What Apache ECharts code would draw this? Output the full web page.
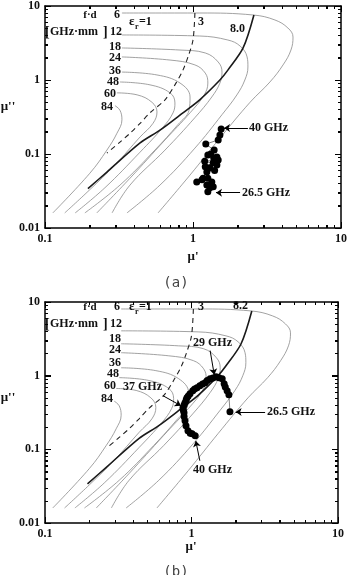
<!DOCTYPE html>
<html>
<head>
<meta charset="utf-8">
<script src="https://cdn.jsdelivr.net/npm/echarts@6/dist/echarts.min.js"></script>
<style>
html,body{margin:0;padding:0;background:#fff;}
#chart{width:350px;height:575px;}
</style>
</head>
<body>
<div id="chart"></div>
<script>
// constant f·d curves, [mu', mu'']
var fd6  = [[0.331,8.04],[1.11,8.04],[2.55,7.56],[3.58,6.47],[4.38,5.04],[4.74,3.81],[4.59,2.54],[4.06,1.60],[3.31,0.94],[2.43,0.50],[1.52,0.164],[0.955,0.052],[0.581,0.016]];
var fd12 = [[0.331,4.06],[1.11,3.93],[1.72,3.47],[2.08,2.88],[2.32,2.05],[2.35,1.50],[2.24,1.0],[1.98,0.63],[1.57,0.34],[1.03,0.12],[0.598,0.038],[0.358,0.016]];
var fd18 = [[0.331,2.71],[0.817,2.54],[1.21,2.32],[1.48,1.75],[1.57,1.28],[1.52,0.91],[1.34,0.59],[1.03,0.31],[0.647,0.113],[0.375,0.038],[0.284,0.016]];
var fd24 = [[0.331,2.05],[0.70,1.86],[1.03,1.60],[1.21,1.24],[1.26,0.91],[1.19,0.63],[0.955,0.36],[0.647,0.155],[0.375,0.047],[0.224,0.016]];
var fd36 = [[0.331,1.28],[0.571,1.17],[0.817,0.91],[0.955,0.59],[0.94,0.39],[0.792,0.25],[0.553,0.113],[0.321,0.038],[0.186,0.016]];
var fd48 = [[0.321,0.94],[0.512,0.86],[0.70,0.67],[0.755,0.49],[0.733,0.36],[0.627,0.23],[0.439,0.106],[0.254,0.035],[0.160,0.016]];
var fd60 = [[0.306,0.67],[0.419,0.63],[0.528,0.50],[0.571,0.37],[0.537,0.26],[0.439,0.17],[0.297,0.071],[0.201,0.033],[0.136,0.016]];
var fd84 = [[0.297,0.45],[0.321,0.39],[0.331,0.29],[0.306,0.19],[0.262,0.113],[0.201,0.055],[0.113,0.016]];

// eps_r = 3 (dashed) and eps_r = 8 (solid)
var eps3 = [[1.03,8.04],[1.0,3.47],[0.925,2.05],[0.855,1.36],[0.755,0.86],[0.647,0.54],[0.512,0.36],[0.439,0.26],[0.375,0.19],[0.321,0.145],[0.262,0.103]];
var eps8 = [[2.58,7.56],[2.18,2.71],[1.72,1.36],[1.52,1.0],[1.11,0.54],[0.855,0.36],[0.598,0.21],[0.439,0.141],[0.262,0.057],[0.195,0.034]];

// measured points, 26.5 -> 40 GHz
var measA = [[1.26,0.031],[1.30,0.035],[1.37,0.036],[1.24,0.038],[1.34,0.042],[1.26,0.047],[1.15,0.045],[1.06,0.042],[1.17,0.047],[1.24,0.057],[1.40,0.060],[1.30,0.065],[1.21,0.067],[1.37,0.076],[1.45,0.071],[1.20,0.080],[1.48,0.083],[1.38,0.088],[1.45,0.091],[1.26,0.097],[1.32,0.10],[1.39,0.113],[1.22,0.136],[1.48,0.155],[1.52,0.18],[1.55,0.218]];
var measB = [[1.83,0.324],[1.80,0.551],[1.75,0.625],[1.70,0.70],[1.67,0.778],[1.62,0.91],[1.54,0.94],[1.47,0.969],[1.40,0.93],[1.34,0.91],[1.28,0.86],[1.24,0.80],[1.19,0.77],[1.14,0.731],[1.09,0.687],[1.05,0.66],[1.02,0.625],[0.977,0.569],[0.95,0.53],[0.931,0.502],[0.92,0.47],[0.903,0.43],[0.89,0.40],[0.875,0.367],[0.88,0.34],[0.889,0.314],[0.89,0.28],[0.903,0.244],[0.917,0.209],[0.946,0.179],[0.98,0.165],[1.01,0.163],[1.06,0.153]];

// arrows [from, to]
var arrowsA = [[[2.35,0.225],[1.62,0.225]],[[2.08,0.030],[1.43,0.030]]];
var arrowsB = [[[3.18,0.32],[2.0,0.32]],[[0.638,0.535],[0.847,0.391]],[[1.34,2.19],[1.43,1.03]],[[1.14,0.07],[1.07,0.13]]];

// tick values, decades get long ticks
var xTicks = [0.1,0.2,0.3,0.4,0.5,0.6,0.7,0.8,0.9,1,2,3,4,5,6,7,8,9,10];
var yTicks = [0.01,0.02,0.03,0.04,0.05,0.06,0.07,0.08,0.09,0.1,0.2,0.3,0.4,0.5,0.6,0.7,0.8,0.9,1,2,3,4,5,6,7,8,9,10];

var SERIF = 'Liberation Serif';
var chart = echarts.init(document.getElementById('chart'));

function isDecade(v){
  var l = Math.log10(v);
  return Math.abs(l - Math.round(l)) < 1e-6;
}

function plotSeries(i, meas, arrows){
  var out = [];
  [fd6, fd12, fd18, fd24, fd36, fd48, fd60, fd84].forEach(function(c){
    out.push({type:'line', xAxisIndex:i, yAxisIndex:i, data:c, smooth:0.4, showSymbol:false, silent:true,
      lineStyle:{color:'#8a8a8a', width:0.8}, z:2});
  });
  out.push({type:'line', xAxisIndex:i, yAxisIndex:i, data:eps3, smooth:0.3, showSymbol:false, silent:true,
    lineStyle:{color:'#222', width:1.1, type:[5,4]}, z:3});
  out.push({type:'line', xAxisIndex:i, yAxisIndex:i, data:eps8, smooth:0.3, showSymbol:false, silent:true,
    lineStyle:{color:'#1a1a1a', width:1.6}, z:3});
  out.push({type:'line', xAxisIndex:i, yAxisIndex:i, data:meas, symbol:'circle', symbolSize:7, showSymbol:true,
    itemStyle:{color:'#000'}, lineStyle:{color:'#333', width:0.6}, z:5,
    markLine:{silent:true, symbol:['none','arrow'], symbolSize:6, animation:false,
      label:{show:false}, lineStyle:{color:'#000', width:1, type:'solid'},
      data:arrows.map(function(a){ return [{coord:a[0]},{coord:a[1]}]; })}
  });
  return out;
}

var axisLbl = {fontFamily:SERIF, fontWeight:'bold', fontSize:12, color:'#111', margin:5,
  formatter:function(v){ return String(+(+v).toPrecision(3)); }};

// bottom/left axes carry labels, top/right copies close the frame
function ax(i, lo, hi, split, pos, lab){
  return {gridIndex:i, type:'log', logBase:10, min:lo, max:hi, splitNumber:split, position:pos,
    axisLine:{show:true, onZero:false, lineStyle:{color:'#000', width:1.5}},
    axisTick:{show:true, inside:true, length:6, lineStyle:{color:'#000', width:1}},
    minorTick:{show:false}, splitLine:{show:false},
    axisLabel:lab ? axisLbl : {show:false}};
}

function txt(x, y, s, align, size, extra){
  var st = {text:s, fontFamily:SERIF, fontWeight:'bold', fontSize:size || 12, fill:'#111',
    align:align || 'left', verticalAlign:'middle'};
  if(extra){ for(var k in extra){ st[k] = extra[k]; } }
  return {type:'text', x:x, y:y, z:20, style:st};
}

function labels(dy, epsTop, solidLbl){
  return [
    txt(90, 15+dy, 'f·d', 'center', 11),
    txt(120, 15+dy, '6', 'right'),
    txt(45, 32+dy, '[', 'left', 14),
    txt(50, 32+dy, 'GHz·mm', 'left', 12),
    txt(103, 32+dy, ']', 'left', 14),
    txt(122, 32+dy, '12', 'right'),
    txt(121, 47+dy, '18', 'right'),
    txt(121, 58+dy, '24', 'right'),
    txt(121, 71+dy, '36', 'right'),
    txt(119, 82+dy, '48', 'right'),
    txt(116, 94+dy, '60', 'right'),
    txt(113, 107+dy, '84', 'right'),
    txt(129, epsTop+dy, 'ε', 'left', 13),
    txt(135, epsTop+5+dy, 'r', 'left', 8),
    txt(139, epsTop+dy, '=1', 'left', 12),
    txt(198, epsTop+dy, '3', 'left', 12),
    txt(solidLbl[0], solidLbl[1]+dy, solidLbl[2], 'left', 12)
  ];
}

function buildTexts(){
  var mono = {fontFamily:'DejaVu Sans Mono', fontWeight:'normal', fill:'#444'};
  return []
    .concat(labels(0, 22, [230, 29, '8.0']))
    .concat(labels(292, 15, [233, 14, '8.2']))
    .concat([
      txt(249, 128, '40 GHz'),
      txt(242, 193, '26.5 GHz'),
      txt(193, 257, "μ'", 'center', 13),
      txt(8, 107, "μ''", 'center', 13),
      txt(176, 283, '(a)', 'center', 14, mono),
      txt(193, 343, '29 GHz'),
      txt(123, 387, '37 GHz'),
      txt(267, 412, '26.5 GHz'),
      txt(193, 470, '40 GHz'),
      txt(191, 547, "μ'", 'center', 13),
      txt(8, 398, "μ''", 'center', 13),
      txt(176, 572, '(b)', 'center', 14, mono)
    ]);
}

function buildOption(extraSeries, extraGraphic){
  return {
    animation:false,
    grid:[
      {left:45, top:5, width:296, height:223},
      {left:45, top:302, width:293, height:221}
    ],
    xAxis:[ax(0,0.1,10,2,'bottom',true), ax(1,0.1,10,2,'bottom',true), ax(0,0.1,10,2,'top',false), ax(1,0.1,10,2,'top',false)],
    yAxis:[ax(0,0.01,10,3,'left',true), ax(1,0.01,10,3,'left',true), ax(0,0.01,10,3,'right',false), ax(1,0.01,10,3,'right',false)],
    series:[].concat(plotSeries(0, measA, arrowsA), plotSeries(1, measB, arrowsB), extraSeries),
    graphic:extraGraphic.concat(buildTexts())
  };
}

// first pass lays out the grids
chart.setOption(buildOption([], []));

// inward ticks on all four sides, located through each grid's own log scales
var tickSeries = [], tickGraphic = [];
function gLine(x1, y1, x2, y2){
  return {type:'line', z:30, shape:{x1:x1, y1:y1, x2:x2, y2:y2}, style:{stroke:'#000', lineWidth:1}};
}
try {
  [0, 1].forEach(function(i){
    var f = {gridIndex:i};
    var bl = chart.convertToPixel(f, [0.1, 0.01]);
    var tr = chart.convertToPixel(f, [10, 10]);
    var segs = [];
    xTicks.forEach(function(v){
      var px = chart.convertToPixel(f, [v, 1])[0];
      var len = isDecade(v) ? 6 : 3;
      var yb = chart.convertFromPixel(f, [px, bl[1] - len])[1];
      var yt = chart.convertFromPixel(f, [px, tr[1] + len])[1];
      segs.push({coords:[[v, 0.01], [v, yb]]});
      segs.push({coords:[[v, 10], [v, yt]]});
      var sx = Math.round(px) + 0.5;
      tickGraphic.push(gLine(sx, bl[1], sx, bl[1] - len));
      tickGraphic.push(gLine(sx, tr[1], sx, tr[1] + len));
    });
    yTicks.forEach(function(w){
      var py = chart.convertToPixel(f, [1, w])[1];
      var len = isDecade(w) ? 6 : 3;
      var xl = chart.convertFromPixel(f, [bl[0] + len, py])[0];
      var xr = chart.convertFromPixel(f, [tr[0] - len, py])[0];
      segs.push({coords:[[0.1, w], [xl, w]]});
      segs.push({coords:[[10, w], [xr, w]]});
      var sy = Math.round(py) + 0.5;
      tickGraphic.push(gLine(bl[0], sy, bl[0] + len, sy));
      tickGraphic.push(gLine(tr[0], sy, tr[0] - len, sy));
    });
    tickSeries.push({type:'lines', coordinateSystem:'cartesian2d', xAxisIndex:i, yAxisIndex:i,
      polyline:false, silent:true, z:8, data:segs,
      lineStyle:{color:'#000', width:1, opacity:1}});
  });
} catch(e) { tickSeries = []; }

// second pass: full rebuild including ticks
chart.setOption(buildOption(tickSeries, tickGraphic), true);
</script>
</body>
</html>
